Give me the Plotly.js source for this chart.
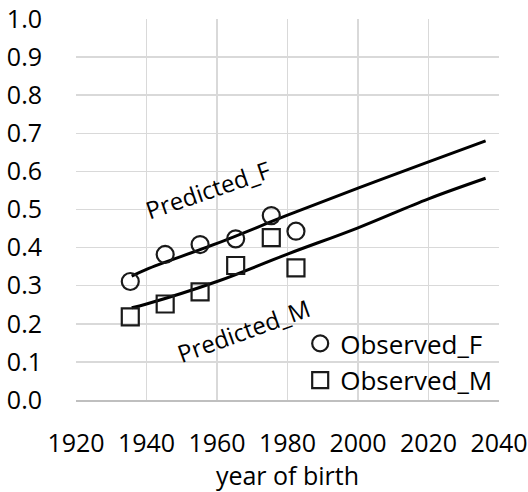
<!DOCTYPE html>
<html><head><meta charset="utf-8">
<script src="https://cdn.plot.ly/plotly-3.0.1.min.js"></script>
<style>html,body{margin:0;padding:0;background:#fff}</style>
</head><body>
<div id="chart" style="width:528px;height:492px"></div>
<script>
const obsYears = [1935.4, 1945.3, 1955.2, 1965.3, 1975.4, 1982.4];
const obsF = [0.311, 0.382, 0.408, 0.423, 0.484, 0.443];
const obsM = [0.218, 0.252, 0.284, 0.353, 0.426, 0.347];
const predYears = [1935.8, 1940, 1960, 1980, 2000, 2020, 2036.2];
const predF = [0.325, 0.343, 0.411, 0.485, 0.556, 0.625, 0.680];
const predM = [0.242, 0.252, 0.311, 0.383, 0.452, 0.528, 0.582];
const labelF = {text: 'Predicted_F', x: 1957.5, y: 0.552, angle: -19};
const labelM = {text: 'Predicted_M', x: 1967.5, y: 0.183, angle: -20};

const font = 'Open Sans, DejaVu Sans, sans-serif';
const fs = 26;
const tfs = 25;
const traces = [
  {x: predYears, y: predF, mode: 'lines', line: {color: '#000', width: 3, shape: 'spline'}, showlegend: false, hoverinfo: 'skip'},
  {x: predYears, y: predM, mode: 'lines', line: {color: '#000', width: 3, shape: 'spline'}, showlegend: false, hoverinfo: 'skip'},
  {x: obsYears, y: obsF, mode: 'markers', name: 'Observed_F', legendgroup: 'f',
   marker: {symbol: 'circle-open', size: 17, color: '#1a1a1a', line: {width: 2.2, color: '#1a1a1a'}}},
  {x: obsYears, y: obsM, mode: 'markers', name: 'Observed_M', legendgroup: 'm',
   marker: {symbol: 'square-open', size: 17, color: '#1a1a1a', line: {width: 2.2, color: '#1a1a1a'}}}
];
const layout = {
  width: 528, height: 492,
  margin: {l: 76, r: 29, t: 19, b: 92},
  paper_bgcolor: '#fff', plot_bgcolor: '#fff',
  font: {family: font, size: fs, color: '#000'},
  xaxis: {range: [1920, 2040], dtick: 20, tick0: 1920, showgrid: true, gridcolor: '#d9d9d9', gridwidth: 1.5,
    zeroline: false, showline: true, linecolor: '#bfbfbf', linewidth: 1.5,
    ticks: 'outside', ticklen: 20, tickcolor: 'rgba(0,0,0,0)', ticklabeloverflow: 'allow',
    tickfont: {size: tfs}, title: {text: 'year of birth', font: {size: 25}, standoff: 4}},
  yaxis: {range: [0, 1], dtick: 0.1, tick0: 0, tickformat: '.1f', showgrid: true, gridcolor: '#d9d9d9', gridwidth: 1.5,
    zeroline: false, showline: false, ticks: 'outside', ticklen: 28, tickcolor: 'rgba(0,0,0,0)', tickfont: {size: tfs}},
  legend: {x: 0.53, xanchor: 'left', y: 0.21, yanchor: 'top', bgcolor: 'rgba(255,255,255,0)',
    font: {size: fs}, itemwidth: 30, traceorder: 'grouped', tracegroupgap: 0},
  annotations: [labelF, labelM].map(l => ({text: l.text, x: l.x, y: l.y, xref: 'x', yref: 'y',
    textangle: l.angle, showarrow: false, font: {size: 24, family: font}})),
  showlegend: true
};
Plotly.newPlot('chart', traces, layout, {displayModeBar: false, staticPlot: true});
</script>
</body></html>
